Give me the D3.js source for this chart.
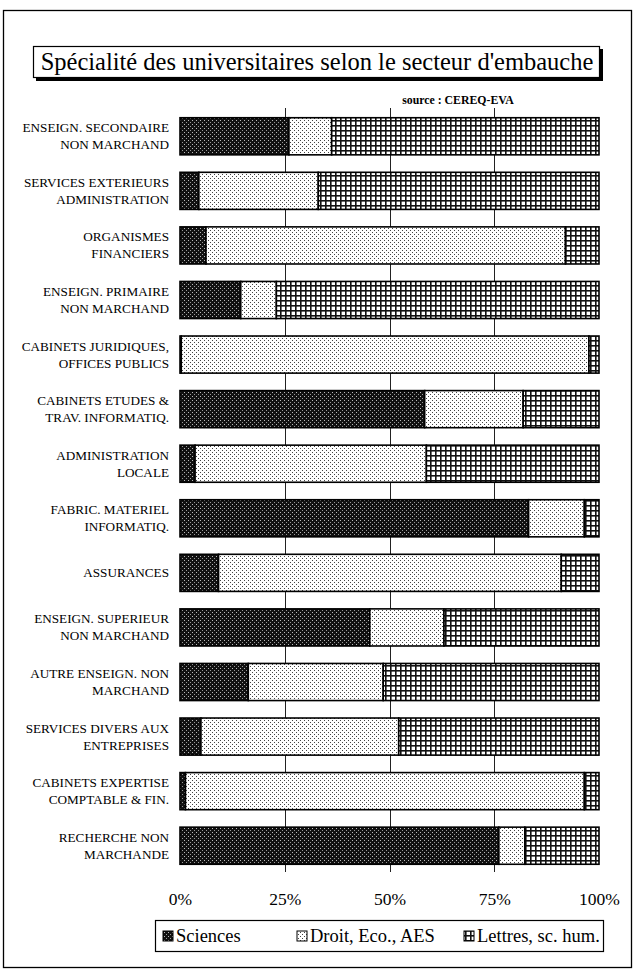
<!DOCTYPE html>
<html>
<head>
<meta charset="utf-8">
<script src="https://cdn.jsdelivr.net/npm/d3@7"></script>
<style>
  body { margin: 0; background: #fff; }
  svg text { font-family: "Liberation Serif", "DejaVu Serif", serif; }
</style>
</head>
<body>
<svg id="chart" width="636" height="978"></svg>
<script>
// sectors, top to bottom (two lines per label)
const sectors = [
    ["ENSEIGN. SECONDAIRE", "NON MARCHAND"],
    ["SERVICES EXTERIEURS", "ADMINISTRATION"],
    ["ORGANISMES", "FINANCIERS"],
    ["ENSEIGN. PRIMAIRE", "NON MARCHAND"],
    ["CABINETS JURIDIQUES,", "OFFICES PUBLICS"],
    ["CABINETS ETUDES &", "TRAV. INFORMATIQ."],
    ["ADMINISTRATION", "LOCALE"],
    ["FABRIC. MATERIEL", "INFORMATIQ."],
    ["ASSURANCES"],
    ["ENSEIGN. SUPERIEUR", "NON MARCHAND"],
    ["AUTRE ENSEIGN. NON", "MARCHAND"],
    ["SERVICES DIVERS AUX", "ENTREPRISES"],
    ["CABINETS EXPERTISE", "COMPTABLE & FIN."],
    ["RECHERCHE NON", "MARCHANDE"]
];

// shares in %
const sciences = [26, 4.5, 6.2, 14.5, 0.3, 58.4, 3.6, 83.2, 9.2, 45.3, 16.3, 5, 1.3, 76.1];
const droit    = [10.2, 28.5, 85.8, 8.5, 97.3, 23.5, 55.2, 13.3, 81.8, 17.7, 32.2, 47.2, 95.2, 6.2];
const lettres  = [63.8, 67, 8, 77, 2.4, 18.1, 41.2, 3.5, 9, 37, 51.5, 47.8, 3.5, 17.7];

const seriesKeys = ["sciences", "droit", "lettres"];
const seriesNames = ["Sciences", "Droit, Eco., AES", "Lettres, sc. hum."];
const tickValues = [0, 25, 50, 75, 100];
const gridValues = [25, 50, 75];

const serif = "'Liberation Serif', 'DejaVu Serif', serif";
const svg = d3.select("#chart");
const defs = svg.append("defs");

// patterns imitating the old printer fills
let p = defs.append("pattern").attr("id", "pat-sciences")
    .attr("width", 4).attr("height", 4).attr("patternUnits", "userSpaceOnUse");
p.append("rect").attr("width", 4).attr("height", 4).attr("fill", "#111");
p.append("rect").attr("x", 0).attr("y", 0).attr("width", 1).attr("height", 1).attr("fill", "#bbb");
p.append("rect").attr("x", 2).attr("y", 2).attr("width", 1).attr("height", 1).attr("fill", "#999");

p = defs.append("pattern").attr("id", "pat-droit")
    .attr("width", 4).attr("height", 4).attr("patternUnits", "userSpaceOnUse");
p.append("rect").attr("width", 4).attr("height", 4).attr("fill", "#fff");
p.append("rect").attr("x", 0).attr("y", 0).attr("width", 1).attr("height", 1).attr("fill", "#444");
p.append("rect").attr("x", 2).attr("y", 2).attr("width", 1).attr("height", 1).attr("fill", "#444");

p = defs.append("pattern").attr("id", "pat-lettres")
    .attr("width", 5).attr("height", 5).attr("patternUnits", "userSpaceOnUse");
p.append("rect").attr("width", 5).attr("height", 5).attr("fill", "#fff");
p.append("rect").attr("x", 0).attr("y", 0).attr("width", 5).attr("height", 1.6).attr("fill", "#111");
p.append("rect").attr("x", 0).attr("y", 0).attr("width", 1.6).attr("height", 5).attr("fill", "#111");

// outer frame
svg.append("rect").attr("x", 3.5).attr("y", 10.5).attr("width", 628).attr("height", 957)
    .attr("fill", "none").attr("stroke", "#000").attr("stroke-width", 1.3);

// title box with shadow
svg.append("rect").attr("x", 36).attr("y", 49).attr("width", 567).attr("height", 32).attr("fill", "#000");
svg.append("rect").attr("x", 33.5).attr("y", 46.5).attr("width", 566).attr("height", 31)
    .attr("fill", "#fff").attr("stroke", "#000").attr("stroke-width", 1.2);
svg.append("text").attr("x", 317).attr("y", 70).attr("text-anchor", "middle")
    .style("font-family", serif).style("font-size", "24.5px")
    .text("Spécialité des universitaires selon le secteur d'embauche");

svg.append("text").attr("x", 458).attr("y", 104).attr("text-anchor", "middle")
    .style("font-family", serif).style("font-size", "11.8px").style("font-weight", "bold")
    .text("source : CEREQ-EVA");

// table for the stack
const rows = sectors.map(function(s, i) {
    return {name: s.join(" "), lines: s, sciences: sciences[i], droit: droit[i], lettres: lettres[i]};
});

const xScale = d3.scaleLinear().domain([0, 100]).range([180, 599]);
const yScale = d3.scaleBand().domain(rows.map(d => d.name))
    .range([109, 873]).paddingInner(0.32).paddingOuter(0.16);

// vertical grid lines behind the bars
svg.append("g").selectAll("line").data(gridValues).enter().append("line")
    .attr("x1", d => Math.round(xScale(d)) + 0.5).attr("x2", d => Math.round(xScale(d)) + 0.5)
    .attr("y1", 108).attr("y2", 872)
    .attr("stroke", "#222").attr("stroke-width", 1);

const stacked = d3.stack().keys(seriesKeys)(rows);

let layers = svg.append("g").selectAll("g").data(stacked).enter().append("g")
    .attr("fill", d => "url(#pat-" + d.key + ")");

layers.selectAll("rect").data(d => d).enter().append("rect")
    .attr("x", d => xScale(d[0]))
    .attr("y", d => yScale(d.data.name))
    .attr("width", d => xScale(d[1]) - xScale(d[0]))
    .attr("height", yScale.bandwidth())
    .attr("stroke", "#000").attr("stroke-width", 1.6);

// category labels
let labels = svg.append("g").selectAll("text").data(rows).enter().append("text")
    .attr("text-anchor", "end")
    .style("font-family", serif)
    .style("font-size", "13.2px")
    .attr("y", d => yScale(d.name) + yScale.bandwidth() / 2);

labels.each(function(d) {
    let t = d3.select(this);
    let n = d.lines.length;
    d.lines.forEach(function(line, i) {
        t.append("tspan").attr("x", 169)
            .attr("dy", i === 0 ? (n === 1 ? 4.5 : -4) : 17)
            .text(line);
    });
});

// x axis labels
const xAxis = d3.axisBottom(xScale).tickValues(tickValues).tickFormat(d => d + "%").tickSize(0).tickPadding(0);
let xAxisG = svg.append("g").attr("transform", "translate(0,893)").call(xAxis);
xAxisG.attr("font-family", null);
xAxisG.select(".domain").remove();
xAxisG.selectAll("text").style("font-size", "17.5px").style("font-family", serif)
    .attr("fill", "#000");

// legend
let legend = svg.append("g");
legend.append("rect").attr("x", 155.5).attr("y", 920.5).attr("width", 448).attr("height", 31)
    .attr("fill", "#fff").attr("stroke", "#000").attr("stroke-width", 1.2);
const legendX = [163, 297, 464];
seriesKeys.forEach(function(k, i) {
    legend.append("rect").attr("x", legendX[i]).attr("y", 931).attr("width", 10).attr("height", 10)
        .attr("fill", "url(#pat-" + k + ")").attr("stroke", "#000").attr("stroke-width", 1);
    legend.append("text").attr("x", legendX[i] + 13).attr("y", 942)
        .style("font-family", serif).style("font-size", "18.5px").text(seriesNames[i]);
});
</script>
</body>
</html>
